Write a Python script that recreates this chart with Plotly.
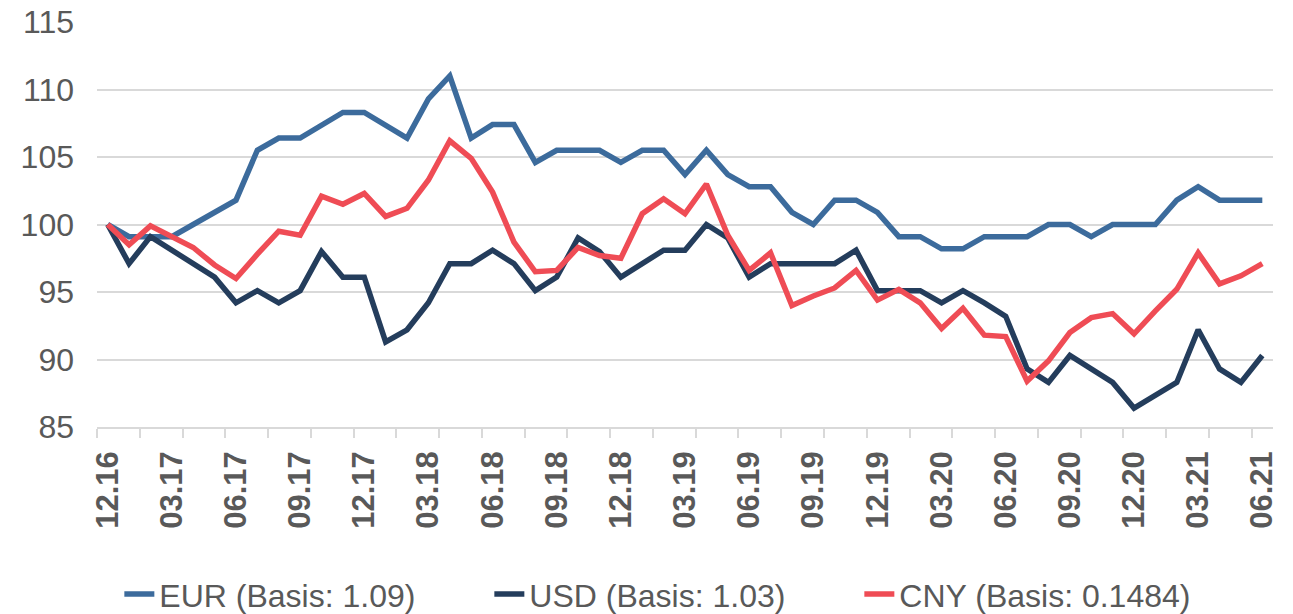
import plotly.graph_objects as go

months = ["12.16","01.17","02.17","03.17","04.17","05.17","06.17","07.17","08.17","09.17","10.17","11.17",
          "12.17","01.18","02.18","03.18","04.18","05.18","06.18","07.18","08.18","09.18","10.18","11.18",
          "12.18","01.19","02.19","03.19","04.19","05.19","06.19","07.19","08.19","09.19","10.19","11.19",
          "12.19","01.20","02.20","03.20","04.20","05.20","06.20","07.20","08.20","09.20","10.20","11.20",
          "12.20","01.21","02.21","03.21","04.21","05.21","06.21"]

eur = [100, 99.1, 99.1, 99.1, 100.0, 100.9, 101.8, 105.5, 106.4, 106.4, 107.4, 108.3,
       108.3, 107.4, 106.4, 109.3, 111.0, 106.4, 107.4, 107.4, 104.6, 105.5, 105.5, 105.5,
       104.6, 105.5, 105.5, 103.7, 105.5, 103.7, 102.8, 102.8, 100.9, 100.0, 101.8, 101.8,
       100.9, 99.1, 99.1, 98.2, 98.2, 99.1, 99.1, 99.1, 100.0, 100.0, 99.1, 100.0,
       100.0, 100.0, 101.8, 102.8, 101.8, 101.8, 101.8]

usd = [100, 97.1, 99.1, 98.1, 97.1, 96.1, 94.2, 95.1, 94.2, 95.1, 98.0, 96.1,
       96.1, 91.3, 92.2, 94.2, 97.1, 97.1, 98.1, 97.1, 95.1, 96.1, 99.0, 98.0,
       96.1, 97.1, 98.1, 98.1, 100.0, 99.0, 96.1, 97.1, 97.1, 97.1, 97.1, 98.1,
       95.1, 95.1, 95.1, 94.2, 95.1, 94.2, 93.2, 89.3, 88.3, 90.3, 89.3, 88.3,
       86.4, 87.4, 88.3, 92.2, 89.3, 88.3, 90.3]

cny = [100, 98.5, 99.9, 99.1, 98.3, 97.0, 96.0, 97.8, 99.5, 99.2, 102.1, 101.5,
       102.3, 100.6, 101.2, 103.3, 106.2, 104.9, 102.4, 98.7, 96.5, 96.6, 98.3, 97.7,
       97.5, 100.8, 101.9, 100.8, 103.0, 99.2, 96.6, 97.9, 94.0, 94.7, 95.3, 96.6,
       94.4, 95.2, 94.2, 92.3, 93.8, 91.8, 91.7, 88.4, 89.9, 92.0, 93.1, 93.4,
       91.9, 93.6, 95.2, 97.9, 95.6, 96.2, 97.1]

series_names = ["EUR (Basis: 1.09)", "USD (Basis: 1.03)", "CNY (Basis: 0.1484)"]
series_colors = ["#3C6B9C", "#243D5C", "#EF4C55"]

label_step = 3
tick_step = 2
xs = list(range(len(months)))
label_vals = xs[::label_step]
label_text = months[::label_step]
minor_vals = [i - 0.5 for i in xs[::tick_step]]

fig = go.Figure()
for name, vals, col in zip(series_names, [eur, usd, cny], series_colors):
    fig.add_trace(go.Scatter(x=xs, y=vals, mode="lines", name=name,
                             line=dict(color=col, width=5.5)))

grey = "#595959"
fig.update_layout(
    width=1285, height=606,
    margin=dict(l=89, r=20, t=14, b=187, autoexpand=False),
    plot_bgcolor="white", paper_bgcolor="white",
    font=dict(family="Liberation Sans, Arial, sans-serif", color=grey),
    showlegend=True,
    legend=dict(orientation="h", x=0.019, xanchor="left", y=-0.413, yanchor="middle",
                font=dict(size=32, color=grey), entrywidth=325, entrywidthmode="pixels",
                bgcolor="rgba(0,0,0,0)"),
    xaxis=dict(range=[-0.5, 54.5], tickmode="array", tickvals=label_vals, ticktext=label_text,
               tickangle=-90, ticks="", showgrid=False, zeroline=False,
               showline=True, linecolor="#D9D9D9", linewidth=1.5,
               tickfont=dict(size=31, color=grey, family="Liberation Sans, Arial, sans-serif",
                             weight="bold"),
               ticklabelstandoff=10, ticklabeloverflow="allow",
               minor=dict(tickmode="array", tickvals=minor_vals, ticks="outside", ticklen=9,
                          tickcolor="#D9D9D9", tickwidth=1.5, showgrid=False)),
    yaxis=dict(range=[85, 115], tickmode="linear", tick0=85, dtick=5, showgrid=True,
               gridcolor="#D9D9D9", gridwidth=1.5, zeroline=False, showline=False,
               tickfont=dict(size=32, color=grey), ticks="", ticklabelstandoff=22,
               ticklabeloverflow="allow"),
)

fig.write_html("out.html")
